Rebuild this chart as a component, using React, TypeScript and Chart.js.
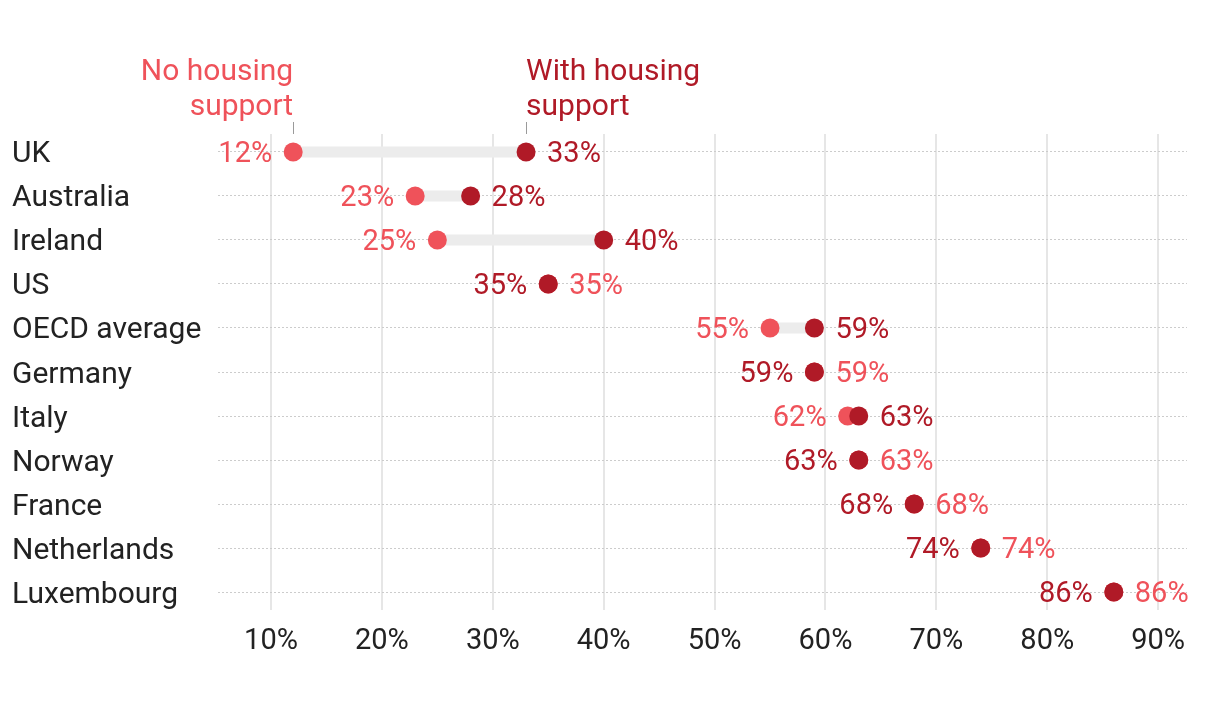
import { useEffect, useRef } from 'react';
import { Chart, registerables } from 'chart.js';

Chart.register(...registerables);

const categories = [
  'UK',
  'Australia',
  'Ireland',
  'US',
  'OECD average',
  'Germany',
  'Italy',
  'Norway',
  'France',
  'Netherlands',
  'Luxembourg',
];
const noSupport = [12, 23, 25, 35, 55, 59, 62, 63, 68, 74, 86];
const withSupport = [33, 28, 40, 35, 59, 59, 63, 63, 68, 74, 86];
const xTicks = [10, 20, 30, 40, 50, 60, 70, 80, 90];
const noSupportTitle = ['No housing', 'support'];
const withSupportTitle = ['With housing', 'support'];

const LIGHT = '#ef525a';
const DARK = '#b01a27';
const TEXT = '#222222';
const FONT = 'Roboto, "Noto Sans", sans-serif';
const SIZE = 29;
const LABEL_SIZE = 30;
const DOT_R = 9.5;

export default function App() {
  const ref = useRef<HTMLCanvasElement | null>(null);

  useEffect(() => {
    if (!ref.current) return;

    const connectors = {
      id: 'connectors',
      beforeDatasetsDraw(chart: any) {
        const { ctx, scales } = chart;
        const x = scales.x;
        const y = scales.y;
        ctx.save();
        ctx.strokeStyle = '#ececec';
        ctx.lineWidth = 11;
        ctx.lineCap = 'butt';
        categories.forEach((_, i) => {
          const yy = y.getPixelForValue(i);
          ctx.beginPath();
          ctx.moveTo(x.getPixelForValue(noSupport[i]), yy);
          ctx.lineTo(x.getPixelForValue(withSupport[i]), yy);
          ctx.stroke();
        });
        ctx.restore();
      },
    };

    const valueLabels = {
      id: 'valueLabels',
      afterDatasetsDraw(chart: any) {
        const { ctx, scales } = chart;
        const x = scales.x;
        const y = scales.y;
        ctx.save();
        ctx.font = `${SIZE}px ${FONT}`;
        ctx.textBaseline = 'alphabetic';
        categories.forEach((_, i) => {
          const a = noSupport[i];
          const b = withSupport[i];
          const yy = y.getPixelForValue(i) + 10.3;
          let left, right;
          if (a < b) {
            left = { v: a, c: LIGHT };
            right = { v: b, c: DARK };
          } else {
            left = { v: b, c: DARK };
            right = { v: a, c: LIGHT };
          }
          ctx.textAlign = 'right';
          ctx.fillStyle = left.c;
          ctx.fillText(left.v + '%', x.getPixelForValue(left.v) - 21, yy);
          ctx.textAlign = 'left';
          ctx.fillStyle = right.c;
          ctx.fillText(right.v + '%', x.getPixelForValue(right.v) + 21, yy);
        });

        // series annotations above the first row
        const rowY = y.getPixelForValue(0);
        const x0 = x.getPixelForValue(noSupport[0]);
        const x1 = x.getPixelForValue(withSupport[0]);
        ctx.strokeStyle = '#9a9a9a';
        ctx.lineWidth = 1;
        [x0, x1].forEach((px) => {
          ctx.beginPath();
          ctx.moveTo(Math.round(px) + 0.5, rowY - 30);
          ctx.lineTo(Math.round(px) + 0.5, rowY - 18);
          ctx.stroke();
        });
        ctx.font = `${LABEL_SIZE}px ${FONT}`;
        ctx.fillStyle = LIGHT;
        ctx.textAlign = 'right';
        noSupportTitle.forEach((t, k) => ctx.fillText(t, x0, rowY - 72 + k * 35));
        ctx.fillStyle = DARK;
        ctx.textAlign = 'left';
        withSupportTitle.forEach((t, k) => ctx.fillText(t, x1, rowY - 72 + k * 35));
        ctx.restore();
      },
    };

    const chart = new Chart(ref.current, {
      type: 'scatter',
      data: {
        datasets: [
          {
            label: 'With housing support',
            data: withSupport.map((v, i) => ({ x: v, y: i })),
            backgroundColor: DARK,
            borderColor: DARK,
            pointRadius: DOT_R,
            pointBorderWidth: 0,
            pointHoverRadius: DOT_R,
          },
          {
            label: 'No housing support',
            data: noSupport.map((v, i) => ({ x: v, y: i })),
            backgroundColor: LIGHT,
            borderColor: LIGHT,
            pointRadius: DOT_R,
            pointBorderWidth: 0,
            pointHoverRadius: DOT_R,
          },
        ],
      },
      options: {
        responsive: false,
        animation: false,
        events: [],
        layout: { padding: { top: 134, left: 12, right: 33, bottom: 0 } },
        plugins: {
          legend: { display: false },
          tooltip: { enabled: false },
        },
        scales: {
          x: {
            type: 'linear',
            position: 'bottom',
            min: 5.22,
            max: 92.6,
            afterBuildTicks: (s: any) => {
              s.ticks = xTicks.map((v) => ({ value: v }));
            },
            afterFit: (s: any) => {
              s.height = 106;
            },
            grid: { color: '#e6e6e6', lineWidth: 2, drawTicks: false },
            border: { display: false },
            ticks: {
              padding: 14,
              color: TEXT,
              font: { family: FONT, size: SIZE },
              callback: (v: any) => v + '%',
            },
          },
          y: {
            type: 'linear',
            position: 'left',
            reverse: true,
            min: -0.409,
            max: 10.409,
            afterBuildTicks: (s: any) => {
              s.ticks = categories.map((_, i) => ({ value: i }));
            },
            afterFit: (s: any) => {
              s.width = 206;
            },
            grid: { color: '#cccccc', lineWidth: 1, drawTicks: false },
            border: { display: false, dash: [2, 2] },
            ticks: {
              crossAlign: 'far',
              padding: 0,
              labelOffset: 3,
              color: TEXT,
              font: { family: FONT, size: LABEL_SIZE },
              callback: (v: any) => categories[v as number],
            },
          },
        },
      },
      plugins: [connectors, valueLabels],
    } as any);

    return () => chart.destroy();
  }, []);

  return (
    <div style={{ position: 'fixed', left: 0, top: 0, width: 1220, height: 716, background: '#fff' }}>
      <canvas ref={ref} width={1220} height={716} style={{ display: 'block' }} />
    </div>
  );
}
